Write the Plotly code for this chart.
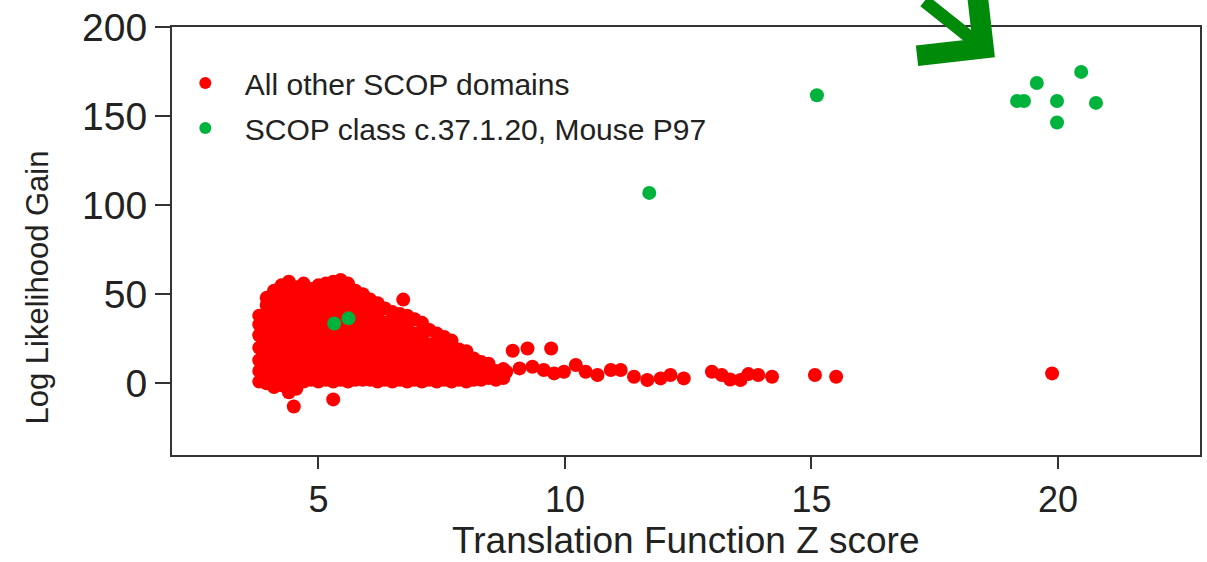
import plotly.graph_objects as go

# ---- data ----
# dense red cloud, column by column: (x, [y values])
red_cloud_cols = [
    (3.80, [1, 7, 13, 20, 27, 33, 38]),
    (3.95, [0, 5, 11, 17, 24, 30, 37, 44, 48]),
    (4.10, [-2, 3, 9, 16, 22, 29, 35, 41, 47, 52]),
    (4.25, [-1, 4, 10, 17, 23, 30, 36, 43, 49, 55]),
    (4.40, [-5, 1, 7, 14, 20, 27, 33, 40, 46, 52, 57]),
    (4.50, [-13]),
    (4.55, [-3, 2, 9, 15, 22, 28, 35, 41, 48, 54]),
    (4.70, [1, 6, 12, 19, 25, 32, 38, 45, 51, 56]),
    (4.85, [2, 8, 14, 21, 27, 34, 40, 46, 53]),
    (5.00, [1, 6, 13, 19, 26, 32, 39, 45, 51, 55]),
    (5.15, [2, 7, 14, 20, 27, 33, 40, 46, 52, 56]),
    (5.30, [-9, 1, 6, 12, 19, 25, 32, 38, 45, 51, 57]),
    (5.45, [2, 8, 14, 21, 27, 34, 40, 47, 53, 58]),
    (5.60, [1, 7, 13, 20, 26, 33, 39, 45, 52, 56]),
    (5.75, [2, 8, 14, 21, 27, 34, 40, 46, 52]),
    (5.90, [2, 7, 13, 20, 26, 33, 39, 45, 50]),
    (6.05, [2, 8, 15, 21, 28, 34, 40, 47]),
    (6.20, [1, 7, 14, 20, 27, 33, 39, 45]),
    (6.35, [2, 8, 15, 21, 28, 34, 42]),
    (6.50, [1, 7, 14, 20, 27, 33, 40]),
    (6.65, [2, 8, 15, 21, 28, 34, 39]),
    (6.72, [47]),
    (6.80, [1, 7, 14, 20, 27, 33, 38]),
    (6.95, [2, 8, 15, 21, 28, 36]),
    (7.10, [1, 7, 14, 20, 27, 34]),
    (7.25, [2, 8, 15, 22, 30]),
    (7.40, [1, 7, 14, 21, 28]),
    (7.55, [2, 8, 15, 22, 26]),
    (7.70, [1, 7, 14, 21, 24]),
    (7.85, [2, 8, 14, 19]),
    (8.00, [1, 7, 13, 18]),
    (8.15, [2, 8, 14]),
    (8.30, [2, 7, 12]),
    (8.45, [3, 8, 11]),
    (8.60, [2, 7]),
    (8.75, [3, 8]),
]

# sparse red tail and outliers
red_tail_x = [8.81, 8.94, 9.08, 9.24, 9.34, 9.57, 9.72, 9.78, 9.98, 10.22, 10.42,
              10.66, 10.93, 11.13, 11.40, 11.67, 11.94, 12.14, 12.41, 12.98,
              13.18, 13.35, 13.56, 13.72, 13.92, 14.20, 15.07, 15.50, 19.88]
red_tail_y = [6.5, 18.3, 8.4, 19.6, 9.3, 7.5, 19.6, 5.6, 6.5, 10.3, 6.5,
              4.7, 7.5, 7.5, 3.7, 1.9, 2.8, 4.7, 2.8, 6.5,
              4.7, 2.2, 1.9, 5.2, 4.7, 3.7, 4.7, 3.7, 5.6]

green_x = [5.32, 5.61, 11.71, 15.11, 19.17, 19.31, 19.57, 19.98, 19.98, 20.47, 20.77]
green_y = [33.6, 36.5, 106.9, 161.7, 158.5, 158.5, 168.6, 158.5, 146.4, 174.8, 157.4]

x_ticks = [5, 10, 15, 20]
y_ticks = [0, 50, 100, 150, 200]

red_x = [c[0] for c in red_cloud_cols for _ in c[1]] + red_tail_x
red_y = [v for c in red_cloud_cols for v in c[1]] + red_tail_y

FONT = "Liberation Sans, Arial, Helvetica, sans-serif"
AX = "#333333"
TXT = "#222222"

fig = go.Figure()
fig.add_trace(go.Scatter(
    x=red_x, y=red_y, mode="markers", name="All other SCOP domains",
    legendgroup="a",
    marker=dict(color="#ff0000", size=14, line=dict(width=0)),
))
fig.add_trace(go.Scatter(
    x=green_x, y=green_y, mode="markers", name="SCOP class c.37.1.20, Mouse P97",
    legendgroup="b",
    marker=dict(color="#00b33c", size=14, line=dict(width=0)),
))

# arrow pointing at the green cluster
fig.add_annotation(
    x=18.72, y=183, xref="x", yref="y", text="", showarrow=True,
    ax=-72, ay=-100, axref="pixel", ayref="pixel",
    arrowhead=4, arrowsize=1.4, arrowwidth=13, arrowcolor="#008a0a",
)

# y-axis title (sits lower than the axis centre in the reference)
fig.add_annotation(
    x=-0.131, y=0.392, xref="paper", yref="paper", text="Log Likelihood Gain",
    textangle=-90, showarrow=False, xanchor="center", yanchor="middle",
    font=dict(size=31, family=FONT, color=TXT),
)

# x-axis title
fig.add_annotation(
    x=0.5, y=-0.1996, xref="paper", yref="paper", text="Translation Function Z score",
    showarrow=False, xanchor="center", yanchor="middle",
    font=dict(size=37, family=FONT, color=TXT),
)

fig.update_layout(
    width=1207, height=562,
    margin=dict(l=172, r=5, t=27, b=107),
    paper_bgcolor="white", plot_bgcolor="white",
    font=dict(family=FONT, color=TXT),
    showlegend=True,
    legend=dict(
        x=-0.006, y=0.93, xanchor="left", yanchor="top",
        font=dict(size=30, family=FONT, color=TXT),
        bgcolor="rgba(0,0,0,0)", borderwidth=0, itemsizing="constant",
        itemwidth=69, traceorder="grouped", tracegroupgap=3,
    ),
    xaxis=dict(
        range=[2.03, 22.88], tickvals=x_ticks, ticktext=[str(t) for t in x_ticks],
        showgrid=False, zeroline=False, showline=True, mirror=True,
        linecolor=AX, linewidth=2, ticks="outside", ticklen=12, tickwidth=2,
        tickcolor=AX, tickfont=dict(size=36, family=FONT, color=TXT),
    ),
    yaxis=dict(
        range=[-40.2, 200], tickvals=y_ticks, ticktext=[str(t) for t in y_ticks],
        showgrid=False, zeroline=False, showline=True, mirror=True,
        linecolor=AX, linewidth=2, ticks="outside", ticklen=15, tickwidth=2,
        tickcolor=AX, tickfont=dict(size=39, family=FONT, color=TXT),
    ),
)

fig.write_html("out.html")
